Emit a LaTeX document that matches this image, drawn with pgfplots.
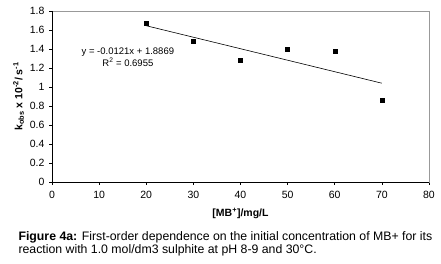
\documentclass[border=0pt]{standalone}
\usepackage{fontspec}
\setmainfont{Liberation Sans}
\usepackage{pgfplots}
\pgfplotsset{compat=1.18}
\begin{document}
\begin{tikzpicture}[x=1pt,y=1pt]
\useasboundingbox (0,0) rectangle (441,264);
\begin{axis}[
  at={(52pt,82pt)}, anchor=south west,
  scale only axis, width=377pt, height=171pt,
  xmin=0, xmax=80, ymin=0, ymax=1.8,
  xtick={0,10,...,80},
  ytick={0,0.2,...,1.8},
  yticklabels={0,0.2,0.4,0.6,0.8,1,1.2,1.4,1.6,1.8},
  /pgf/number format/assume math mode=true,
  tick label style={font=\fontsize{10.5}{12}\selectfont},
  xticklabel style={yshift=-2.5pt},
  yticklabel style={xshift=-1pt},
  xtick pos=left, ytick pos=left,
  tick align=outside,
  major tick length=3pt,
  tick style={black, line width=0.6pt},
  axis line style={gray!80, line width=0.6pt},
  xlabel={\textbf{[MB\textsuperscript{+}]/mg/L}},
  ylabel={\textbf{k\textsubscript{obs} x 10\textsuperscript{-2}/ s\textsuperscript{-1}}},
  label style={font=\fontsize{10.5}{12}\selectfont},
  xlabel style={yshift=-3pt},
  ylabel style={yshift=-1pt},
  clip=false,
]
\addplot[only marks, mark=square*, mark size=2pt, black]
  coordinates {(20,1.67) (30,1.48) (40,1.28) (50,1.40) (60,1.38) (70,0.86)};
\addplot[black, line width=0.6pt] coordinates {(20,1.6449) (70,1.0399)};
\draw[black, line width=0.6pt] (rel axis cs:0,1) -- (rel axis cs:0,0) -- (rel axis cs:1,0);
\node[font=\fontsize{9.5}{11}\selectfont] at (axis cs:16.1,1.369) {y = -0.0121x + 1.8869};
\node[font=\fontsize{9.5}{11}\selectfont] at (axis cs:16.1,1.258) {R\textsuperscript{2} = 0.6955};
\end{axis}
\node[anchor=base west, font=\fontsize{12.3}{14}\selectfont] at (15,23.5) {\textbf{Figure 4a:} First-order dependence on the initial concentration of MB+ for its};
\node[anchor=base west, font=\fontsize{12.3}{14}\selectfont] at (15,10.5) {reaction with 1.0 mol/dm3 sulphite at pH 8-9 and 30°C.};
\end{tikzpicture}
\end{document}
